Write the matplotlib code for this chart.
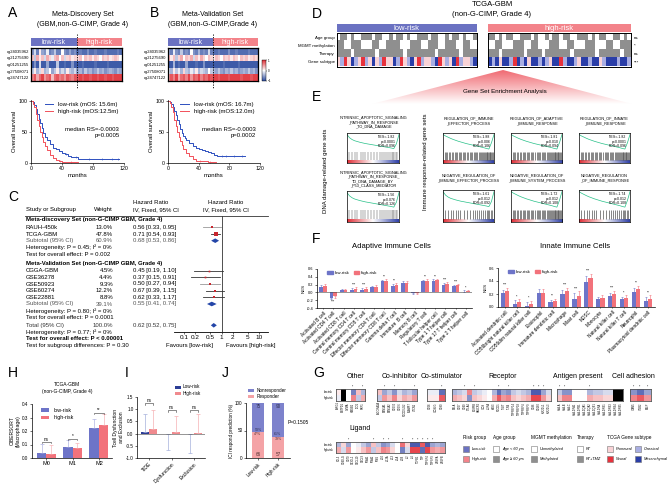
import numpy as np
import matplotlib
matplotlib.use('Agg')
import matplotlib.pyplot as plt
from matplotlib.colors import LinearSegmentedColormap, to_rgb
from matplotlib.patches import Rectangle, Polygon
from matplotlib.lines import Line2D

plt.rcParams['font.family'] = ['Liberation Sans', 'DejaVu Sans']
plt.rcParams['axes.linewidth'] = 0.5
plt.rcParams['xtick.major.width'] = 0.4
plt.rcParams['ytick.major.width'] = 0.4
plt.rcParams['xtick.major.size'] = 1.5
plt.rcParams['ytick.major.size'] = 1.5
plt.rcParams['xtick.major.pad'] = 1
plt.rcParams['ytick.major.pad'] = 1

# -------------------------------------
# Data
# -------------------------------------
probe_names = ["cg24035962", "cg21275690", "cg01251255", "cg27508071", "cg24747122"]

heat_a_low = [
    [-0.6, -0.2, -0.7, 0.1, -0.5, -0.6, -0.1, -0.7, -0.6, -0.3, -0.7, -0.7, 0.0, -0.6, -0.7, -0.5, -0.7, -0.6],
    [0.3, -0.3, 0.4, 0.1, 0.3, -0.2, 0.4, 0.2, -0.1, 0.3, 0.4, 0.0, 0.3, -0.2, 0.2, 0.3, 0.1, 0.2],
    [-0.9, -0.6, -0.9, -0.2, -0.9, -0.9, -0.5, -0.9, -0.9, -0.9, -0.3, -0.9, -0.9, -0.8, -0.9, -0.9, -0.6, -0.9],
    [-0.3, 0.1, -0.4, -0.2, 0.2, -0.4, -0.3, 0.0, -0.5, -0.3, 0.1, -0.4, -0.2, -0.4, 0.1, -0.3, -0.4, -0.2],
    [0.6, 0.8, 0.4, 0.7, 0.9, 0.5, 0.7, 0.8, 0.3, 0.7, 0.8, 0.6, 0.7, 0.5, 0.8, 0.7, 0.6, 0.8],
]
heat_a_high = [
    [-0.8, -0.7, -0.8, -0.8, -0.6, -0.8, -0.8, -0.7, -0.8, -0.8, -0.8, -0.7, -0.8, -0.8, -0.8, -0.8, -0.7, -0.8],
    [0.2, 0.3, 0.0, 0.3, 0.2, 0.3, 0.1, 0.3, 0.2, 0.0, 0.3, 0.2, 0.3, 0.1, 0.2, 0.3, 0.2, 0.0],
    [-0.9, -0.9, -0.8, -0.9, -0.9, -0.9, -0.9, -0.8, -0.9, -0.9, -0.9, -0.9, -0.8, -0.9, -0.9, -0.9, -0.9, -0.9],
    [-0.5, -0.4, -0.6, -0.3, -0.5, -0.4, -0.6, -0.5, -0.3, -0.5, -0.4, -0.6, -0.5, -0.4, -0.5, -0.6, -0.4, -0.5],
    [0.8, 0.9, 0.8, 0.9, 0.9, 0.8, 0.9, 0.9, 0.8, 0.9, 0.9, 0.8, 0.9, 0.9, 0.8, 0.9, 0.9, 0.9],
]
heat_b_low = [
    [-0.5, -0.7, -0.1, -0.6, -0.7, -0.3, -0.7, -0.6, -0.7, 0.0, -0.6, -0.7, -0.4, -0.7, -0.6, -0.7, -0.2, -0.7],
    [0.4, 0.1, 0.3, -0.3, 0.2, 0.4, 0.0, 0.3, 0.2, 0.4, -0.2, 0.3, 0.1, 0.4, 0.2, 0.0, 0.3, 0.2],
    [-0.9, -0.9, -0.4, -0.9, -0.8, -0.9, -0.9, -0.5, -0.9, -0.9, -0.9, -0.8, -0.9, -0.9, -0.6, -0.9, -0.9, -0.9],
    [-0.2, -0.4, 0.1, -0.3, -0.1, -0.4, 0.2, -0.3, -0.4, -0.1, -0.3, 0.1, -0.4, -0.2, -0.3, -0.4, 0.0, -0.3],
    [0.5, 0.8, 0.6, 0.9, 0.4, 0.7, 0.8, 0.6, 0.9, 0.5, 0.8, 0.7, 0.9, 0.6, 0.8, 0.7, 0.9, 0.8],
]
heat_b_high = [
    [-0.8, -0.8, -0.7, -0.8, -0.8, -0.8, -0.6, -0.8, -0.8, -0.7, -0.8, -0.8, -0.8, -0.8, -0.7, -0.8, -0.8, -0.8],
    [0.1, 0.3, 0.2, 0.0, 0.3, 0.2, 0.3, 0.1, 0.3, 0.2, 0.0, 0.3, 0.2, 0.3, 0.1, 0.2, 0.3, 0.2],
    [-0.9, -0.9, -0.9, -0.9, -0.8, -0.9, -0.9, -0.9, -0.9, -0.9, -0.8, -0.9, -0.9, -0.9, -0.9, -0.9, -0.9, -0.9],
    [-0.4, -0.5, -0.3, -0.5, -0.6, -0.4, -0.5, -0.3, -0.5, -0.4, -0.6, -0.5, -0.4, -0.5, -0.3, -0.5, -0.4, -0.6],
    [0.9, 0.9, 0.8, 0.9, 0.9, 0.9, 0.8, 0.9, 0.9, 0.9, 0.9, 0.8, 0.9, 0.9, 0.9, 0.8, 0.9, 0.9],
]

# Kaplan-Meier curves (months, % survival)
km_a_low_t = [0, 2, 4, 6, 8, 10, 12, 14, 16, 18, 20, 24, 28, 32, 36, 40, 44, 48, 52, 56, 60, 70, 113]
km_a_low_s = [100, 98, 94, 88, 80, 72, 64, 56, 48, 42, 37, 30, 25, 22, 19, 17, 14, 12, 10, 9, 7, 6, 6]
km_a_high_t = [0, 2, 4, 6, 8, 10, 12, 14, 16, 18, 20, 24, 28, 32, 36, 40, 48, 56, 60]
km_a_high_s = [100, 96, 90, 80, 70, 60, 51, 42, 34, 27, 21, 13, 8, 5, 3, 2, 2, 1, 0]
km_a_low_cens = [45, 58, 75, 92, 104, 112]
km_a_high_cens = [38, 52]
km_b_low_t = [0, 2, 4, 6, 8, 10, 12, 14, 16, 18, 20, 22, 24, 28, 32, 36, 40, 44, 48, 52, 56, 60, 64, 100]
km_b_low_s = [100, 99, 96, 90, 84, 77, 69, 63, 55, 48, 44, 40, 37, 32, 28, 25, 22, 21, 20, 18, 16, 13, 11, 11]
km_b_high_t = [0, 2, 4, 6, 8, 10, 12, 14, 16, 18, 20, 24, 28, 32, 36, 44, 52, 58, 62]
km_b_high_s = [100, 97, 91, 82, 70, 60, 50, 42, 35, 29, 23, 16, 11, 7, 4, 3, 2, 1, 0]
km_b_low_cens = [70, 76, 86, 96]
km_b_high_cens = [42, 55]

# Forest plot
study_names = ["RAUH-450k", "TCGA-GBM", "CGGA-GBM", "GSE36278", "GSE50923", "GSE60274", "GSE22881"]
study_weight = [13.0, 47.8, 4.5, 4.4, 9.3, 12.2, 8.8]
study_hr = [0.56, 0.71, 0.45, 0.37, 0.50, 0.67, 0.62]
study_lo = [0.33, 0.54, 0.19, 0.15, 0.27, 0.39, 0.33]
study_hi = [0.95, 0.93, 1.10, 0.91, 0.94, 1.15, 1.17]
sub_names = ["Subtotal (95% CI)", "Subtotal (95% CI)", "Total (95% CI)"]
sub_weight = [60.9, 39.1, 100.0]
sub_hr = [0.68, 0.55, 0.62]
sub_lo = [0.53, 0.41, 0.52]
sub_hi = [0.86, 0.74, 0.75]
set_names = ["Meta-discovery Set (non-G-CIMP GBM, Grade 4)", "Meta-Validation Set (non-G-CIMP GBM, Grade 4)"]
het_text = ["Heterogeneity: P = 0.45; I\u00b2 = 0%", "Heterogeneity: P = 0.80; I\u00b2 = 0%",
            "Heterogeneity: P = 0.77; I\u00b2 = 0%"]
effect_text = ["Test for overall effect: P = 0.002", "Test for overall effect: P = 0.0001",
               "Test for overall effect: P < 0.00001"]
subgroup_text = "Test for subgroup differences: P = 0.30"
hr_ticks = [0.1, 0.2, 0.5, 1, 2, 5, 10]

# TCGA clinical annotation (0 = white, 1 = grey; subtype P/C/N/M)
d_age_low = "0110100111011001011010011101100101101001"
d_age_high = "1101011001110100101101100111010110011010"
d_mgmt_low = "1100111000110011110001110011100111001100"
d_mgmt_high = "0011000111001100011100110001110001100111"
d_ther_low = "1111011111101111111011111111011111101111"
d_ther_high = "1110111111011110111111101111110111111011"
d_sub_low = "PCNPMCPNCPMPCNPPMCNPCMPNCPPCMNPCPMNCPPCM"
d_sub_high = "MCMPMMCNMCMPMMCMCPMMNCMMCPMMCMMPCMMMCMMC"
d_row_names = ["Age group", "MGMT methylation", "Therapy", "Gene subtype"]
d_sig = ["ns", "*", "ns", "***"]

# GSEA
gsea_titles = [
    "INTRINSIC_APOPTOTIC_SIGNALING\n_PATHWAY_IN_RESPONSE\n_TO_DNA_DAMAGE",
    "INTRINSIC_APOPTOTIC_SIGNALING\n_PATHWAY_IN_RESPONSE_\nTO_DNA_DAMAGE_BY\n_P53_CLASS_MEDIATOR",
    "REGULATION_OF_IMMUNE\n_EFFECTOR_PROCESS",
    "REGULATION_OF_ADAPTIVE\n_IMMUNE_RESPONSE",
    "REGULATION_OF_INNATE\n_IMMUNE_RESPONSE",
    "NEGATIVE_REGULATION_OF\n_IMMUNE_EFFECTOR_PROCESS",
    "NEGATIVE_REGULATION_OF\n_IMMUNE_SYSTEM_PROCESS",
    "NEGATIVE_REGULATION\n_OF_IMMUNE_RESPONSE",
]
gsea_nes = ["-1.82", "-1.56", "-1.88", "-1.81", "-1.82", "-1.61", "-1.72", "-1.74"]
gsea_p = ["<0.0001", "=0.076", "=0.006", "=0.010", "<0.0001", "=0.012", "=0.012", "=0.012"]
gsea_fdr = ["0.096", "0.126", "0.106", "0.094", "0.096", "0.092", "0.108", "0.108"]
es_steep = [0, -0.22, -0.34, -0.42, -0.47, -0.52, -0.56, -0.6, -0.63, -0.66, -0.69,
            -0.72, -0.75, -0.78, -0.81, -0.84, -0.87, -0.9, -0.94, -0.62, 0]
es_smooth = [0, -0.1, -0.18, -0.26, -0.33, -0.39, -0.45, -0.5, -0.55, -0.6, -0.64,
             -0.68, -0.72, -0.76, -0.8, -0.84, -0.88, -0.93, -0.97, -0.55, 0]
hits_sparse = [0.04, 0.1, 0.15, 0.19, 0.26, 0.3, 0.34, 0.41, 0.47, 0.52, 0.58, 0.63, 0.67,
               0.71, 0.75, 0.79, 0.83, 0.86, 0.89, 0.91, 0.94, 0.96]
hits_dense = [0.03, 0.06, 0.08, 0.11, 0.14, 0.17, 0.2, 0.23, 0.25, 0.28, 0.31, 0.33, 0.36,
              0.39, 0.42, 0.44, 0.47, 0.5, 0.52, 0.55, 0.57, 0.6, 0.62, 0.65, 0.67, 0.7,
              0.72, 0.74, 0.76, 0.78, 0.8, 0.82, 0.84, 0.86, 0.87, 0.89, 0.9, 0.92, 0.93,
              0.95, 0.96, 0.98]

# Immune cells (NES)
adaptive_cells = ["Activated B cell", "Activated CD4 T cell", "Activated CD8 T cell",
                  "Central memory CD4 T cell", "Central memory CD8 T cell",
                  "Effector memeory CD4 T cell", "Effector memeory CD8 T cell",
                  "Gamma delta T cell", "Immature  B cell", "Memory B cell",
                  "Regulatory T cell", "T follicular helper cell", "Type 1 T helper cell",
                  "Type 17 T helper cell", "Type 2 T helper cell"]
adaptive_low = [0.14, -0.14, 0.05, 0.07, 0.06, 0.13, 0.28, 0.16, 0.24, -0.01, 0.28, 0.30, 0.20, 0.16, 0.02]
adaptive_high = [0.16, -0.10, 0.05, 0.08, 0.08, 0.14, 0.30, 0.18, 0.25, -0.005, 0.30, 0.31, 0.22, 0.18, 0.03]
adaptive_low_err = [0.05, 0.04, 0.04, 0.04, 0.05, 0.04, 0.05, 0.05, 0.05, 0.03, 0.05, 0.04, 0.05, 0.04, 0.03]
adaptive_high_err = [0.05, 0.04, 0.04, 0.05, 0.06, 0.04, 0.05, 0.05, 0.05, 0.03, 0.05, 0.04, 0.05, 0.04, 0.04]
adaptive_sig = ["", "***", "", "***", "***", "", "**", "**", "", "", "**", "**", "***", "***", "*"]

innate_cells = ["Activated dendritic cell", "CD56bright natural killer cell",
                "CD56dim natural killer cell", "Eosinophil", "Immature dendritic cell",
                "Macrophage", "Mast cell", "MDSC", "Monocyte", "Natural killer cell",
                "Natural killer T cell", "Neutrophil", "Plasmacytoid dendritic cell"]
innate_low = [0.21, 0.05, 0.02, 0.21, 0.07, 0.20, 0.13, 0.39, 0.12, 0.17, 0.12, 0.23, 0.10]
innate_high = [0.25, 0.07, 0.04, 0.21, 0.09, 0.25, 0.17, 0.44, 0.14, 0.20, 0.14, 0.27, 0.13]
innate_low_err = [0.05, 0.06, 0.05, 0.06, 0.04, 0.06, 0.09, 0.08, 0.04, 0.04, 0.04, 0.07, 0.05]
innate_high_err = [0.05, 0.05, 0.06, 0.06, 0.04, 0.05, 0.07, 0.07, 0.05, 0.05, 0.04, 0.06, 0.05]
innate_sig = ["***", "*", "*", "", "**", "***", "***", "***", "", "***", "*", "**", "**"]

# Immunomodulators (z-score, NaN = not available)
nan = np.nan
g_other_genes = ["ARG1", "ENTPD1", "GZMA", "HMGB1", "IDO1", "PRF1"]
g_other_low = [0.1, nan, 0.0, -0.7, 0.3, -0.4]
g_other_high = [-0.1, nan, 0.0, 0.6, -0.3, 0.4]
g_other_sig = ["", "", "", "*", "", "*"]
g_coinh_genes = ["ADORA2A", "BTN3A1", "BTN3A2", "CD274", "CD276", "PDCD1LG2", "SLAMF7", "VTCN1"]
g_coinh_low = [0.3, -0.5, -0.3, -0.6, -0.2, -0.4, -0.3, -0.5]
g_coinh_high = [-0.3, 0.5, 0.3, 0.6, 0.2, 0.4, 0.3, 0.5]
g_coinh_sig = ["", "*", "", "*", "", "", "", "*"]
g_costim_genes = ["CD28", "ICOSLG", "CD80"]
g_costim_low = [-0.1, -0.1, -0.8]
g_costim_high = [0.1, 0.1, 0.8]
g_costim_sig = ["", "", "**"]
g_rec_genes = ["BTLA", "CD27", "CD40", "CTLA4", "EDNRB", "HAVCR2", "ICOS", "IL2RA", "LAG3", "PDCD1",
               "TIGIT", "TLR4", "TNFRSF14", "TNFRSF18", "TNFRSF4", "TNFRSF9", "CD96", "CD160",
               "KIR2DL1", "KIR2DL3"]
g_rec_low = [-0.4, -0.3, -0.2, 0.6, -0.3, -0.2, -0.1, 0.0, -0.4, -0.8, -0.5, -0.6,
             -0.3, -0.2, -0.3, -0.4, -0.9, -0.9, -0.5, -0.2]
g_rec_high = [0.4, 0.3, 0.2, -0.6, 0.3, 0.2, 0.1, 0.0, 0.4, 0.8, 0.5, 0.6,
              0.3, 0.2, 0.3, 0.4, 0.9, 0.9, 0.5, 0.2]
g_rec_sig = ["", "", "*", "", "*", "", "", "", "", "**", "", "*", "", "", "", "", "**", "**", "*", ""]
g_ag_genes = ["HLA-A", "HLA-B", "HLA-C", "HLA-DPA1", "HLA-DPB1", "HLA-DQA1", "HLA-DQA2",
              "HLA-DQB1", "HLA-DRA", "HLA-DRB1", "HLA-DRB3", "HLA-DRB4", "HLA-DRB5"]
g_ag_low = [-0.3, -0.6, -0.6, 0.0, 0.0, 0.0, -0.4, -0.3, -0.3, -0.2, -0.2, nan, nan]
g_ag_high = [0.3, 0.6, 0.6, 0.0, 0.0, 0.0, 0.4, 0.3, 0.3, 0.2, 0.2, nan, nan]
g_ag_sig = ["*", "*", "", "", "", "", "*", "", "", "", "", "", ""]
g_adh_genes = ["ICAM1", "ITGB2", "SELP"]
g_adh_low = [-0.6, -0.8, -0.5]
g_adh_high = [0.6, 0.8, 0.5]
g_adh_sig = ["*", "**", "*"]
g_lig_genes = ["CCL5", "CD40LG", "CD70", "CX3CL1", "CXCL10", "CXCL9", "IFNA1", "IFNA2", "IFNG",
               "IL10", "IL12A", "IL13", "IL1A", "IL1B", "IL2", "IL4", "TGFB1", "TNF", "TNFSF4",
               "TNFSF9", "VEGFA", "VEGFB"]
g_lig_low = [-0.4, 0.2, -0.5, 0.0, -0.1, -0.3, -0.5, 0.3, -0.3, -0.6, -0.5, -0.2, 0.0,
             0.7, 0.2, -0.9, -0.9, 0.8, -0.9, -0.5, -0.4, -0.5]
g_lig_high = [0.4, -0.2, 0.5, 0.0, 0.1, 0.3, 0.5, -0.3, 0.3, 0.6, 0.5, 0.2, 0.0,
              -0.7, -0.2, 0.9, 0.9, -0.8, 0.9, 0.5, 0.4, 0.5]
g_lig_sig = ["", "", "*", "", "", "", "", "*", "", "*", "*", "", "", "*", "", "**", "**", "**", "**", "*", "", ""]

# Macrophage CIBERSORT
macro_types = ["M0", "M1", "M2"]
macro_low = [0.035, 0.082, 0.22]
macro_high = [0.030, 0.072, 0.243]
macro_low_err = [0.072, 0.048, 0.068]
macro_high_err = [0.070, 0.036, 0.082]
macro_sig = ["ns", "*", "**"]

# TIDE
tide_terms = ["TIDE", "Dysfunction", "Exclusion"]
tide_low = [0.05, -0.02, -0.01]
tide_high = [0.18, 0.08, 0.005]
tide_low_err = [0.77, 0.66, 0.79]
tide_high_err = [0.77, 0.64, 0.80]

# ICI response
ici_groups = ["Low-risk", "High-risk"]
ici_resp_n = [66, 57]
ici_nonresp_n = [75, 90]
ici_p = "P=0.1505"

# -------------------------------------
# Colours
# -------------------------------------
low_col = '#6b72c2'
high_col = '#f3838a'
km_blue = '#2d4fbf'
km_red = '#f2505a'
bar_blue = '#6d74c8'
bar_red = '#f2727b'
grey_cell = '#8f8f8f'
sub_cols = {'P': '#f9d3d6', 'C': '#a9aee2', 'N': '#e8323c', 'M': '#2a3ea8'}
meth_cmap = LinearSegmentedColormap.from_list('meth', ['#2a4a9f', '#ffffff', '#e12e36'])
g_cmap = LinearSegmentedColormap.from_list('g', ['#3a4ba6', '#ffffff', '#e5323b'])
g_cmap.set_bad('black')

# -------------------------------------
# Figure helpers (pixel coordinates, y from top)
# -------------------------------------
W, H = 669, 484
fig = plt.figure(figsize=(W / 100, H / 100), dpi=100)


def px_ax(x, y, w, h):
    return fig.add_axes([x / W, 1 - (y + h) / H, w / W, h / H])


def px_text(x, y, s, size=4.0, **kw):
    kw.setdefault('va', 'center')
    return fig.text(x / W, 1 - y / H, s, fontsize=size, **kw)


def px_rect(x, y, w, h, **kw):
    fig.patches.append(Rectangle((x / W, 1 - (y + h) / H), w / W, h / H,
                                 transform=fig.transFigure, **kw))


def px_line(xs, ys, **kw):
    fig.add_artist(Line2D([v / W for v in xs], [1 - v / H for v in ys],
                          transform=fig.transFigure, **kw))


def clean(ax):
    ax.spines['top'].set_visible(False)
    ax.spines['right'].set_visible(False)


# panel letters
for letter, lx, ly in [('A', 8, 13), ('B', 150, 13), ('C', 8, 197), ('D', 312, 14),
                       ('E', 312, 97), ('F', 312, 239), ('G', 313, 373), ('H', 8, 373),
                       ('I', 125, 373), ('J', 222, 373)]:
    px_text(lx, ly, letter, size=10)


# -------------------------------------
# A / B : heatmap + KM
# -------------------------------------
def methyl_panel(x0, width, cx, title, sub, low, high, km, stats, legend_labels):
    px_text(cx, 14, title, size=5, ha='center')
    px_text(cx, 24, sub, size=5, ha='center')
    nl = len(low[0])
    nh = len(high[0])
    split = x0 + width * nl / (nl + nh)
    px_rect(x0, 38, split - x0, 8, color=low_col, lw=0)
    px_rect(split, 38, x0 + width - split, 8, color=high_col, lw=0)
    px_text((x0 + split) / 2, 42, "low-risk", size=5, ha='center', color='white')
    px_text((split + x0 + width) / 2, 42, "high-risk", size=5, ha='center', color='white')
    ax = px_ax(x0, 48, width, 33)
    mat = np.hstack([np.array(low), np.array(high)])
    ax.imshow(mat, aspect='auto', cmap=meth_cmap, vmin=-1, vmax=1, interpolation='nearest')
    ax.set_xticks([])
    ax.set_yticks(range(len(probe_names)))
    ax.set_yticklabels(probe_names, fontsize=3)
    ax.tick_params(axis='y', length=0, pad=1)
    for s in ax.spines.values():
        s.set_linewidth(0.9)
    px_line([split, split], [34, 88], color='black', lw=0.6, ls=(0, (1.5, 1.5)))

    kax = px_ax(x0, 100, width + 2, 63)
    (tl, sl, th, sh, cl, ch) = km
    kax.step(tl, sl, where='post', color=km_blue, lw=0.7, label=legend_labels[0])
    kax.step(th, sh, where='post', color=km_red, lw=0.7, label=legend_labels[1])
    for cens, tt, ss, col in [(cl, tl, sl, km_blue), (ch, th, sh, km_red)]:
        idx = np.searchsorted(tt, cens, side='right') - 1
        kax.plot(cens, np.array(ss)[idx], '|', color=col, ms=2, mew=0.4)
    kax.set_xlim(0, 120)
    kax.set_ylim(0, 102)
    kax.set_xticks([0, 40, 80, 120])
    kax.set_yticks([0, 50, 100])
    kax.tick_params(labelsize=3.8)
    kax.set_xlabel("months", fontsize=4.3, labelpad=1)
    kax.set_ylabel("Overall survival", fontsize=4.3, labelpad=1)
    clean(kax)
    kax.legend(fontsize=4.3, frameon=False, loc='upper right', handlelength=1.5,
               bbox_to_anchor=(1.0, 1.05), labelspacing=0.3)
    kax.text(0.95, 0.48, stats, transform=kax.transAxes, ha='right', va='center',
             fontsize=4.3, linespacing=1.3)
    return ax


methyl_panel(31, 91, 83, "Meta-Discovery Set", "(GBM,non-G-CIMP, Grade 4)",
             heat_a_low, heat_a_high,
             (km_a_low_t, km_a_low_s, km_a_high_t, km_a_high_s, km_a_low_cens, km_a_high_cens),
             "median RS=-0.0003\np=0.0005",
             ["low-risk (mOS: 15.6m)", "high-risk (mOS:12.5m)"])
hb = methyl_panel(168, 90, 213, "Meta-Validation Set", "(GBM,non-G-CIMP,Grade 4)",
                  heat_b_low, heat_b_high,
                  (km_b_low_t, km_b_low_s, km_b_high_t, km_b_high_s, km_b_low_cens, km_b_high_cens),
                  "median RS=-0.0003\np=0.0002",
                  ["low-risk (mOS: 16.7m)", "high-risk (mOS:12.0m)"])

# colour bar
cax = px_ax(262, 60, 4, 21)
cb = fig.colorbar(plt.cm.ScalarMappable(cmap=meth_cmap, norm=plt.Normalize(-1, 1)), cax=cax)
cb.set_ticks([-1, 0, 1])
cb.ax.tick_params(labelsize=2.2, length=1, width=0.3, pad=0.5)
cb.outline.set_linewidth(0.3)

# -------------------------------------
# C : forest plot
# -------------------------------------
fs = 4.3
px_text(26, 210, "Study or Subgroup", size=fs)
px_text(113, 210, "Weight", size=fs, ha='right')
px_text(133, 203, "Hazard Ratio", size=fs)
px_text(133, 210, "IV, Fixed, 95% CI", size=fs)
px_text(226, 203, "Hazard Ratio", size=fs, ha='center')
px_text(226, 210, "IV, Fixed, 95% CI", size=fs, ha='center')
px_line([25, 268], [215.5, 215.5], color='#333333', lw=0.6)

study_y = [227.3, 234.0, 270.7, 277.3, 284.0, 290.7, 297.3]
sub_y = [240.7, 304.0, 325.3]
set_y = [220.0, 263.3]
het_y = [247.3, 310.7, 332.0]
eff_y = [254.0, 317.3, 338.7]
ci_cols = ['#999999', '#333333', '#333333', '#333333', '#999999', '#333333', '#333333']

for name, yy in zip(set_names, set_y):
    px_text(26, yy, name, size=fs, fontweight='bold')
for i, name in enumerate(study_names):
    yy = study_y[i]
    px_text(26, yy, name, size=fs)
    px_text(113, yy, "%.1f%%" % study_weight[i], size=fs, ha='right')
    px_text(133, yy, "%.2f [%.2f, %.2f]" % (study_hr[i], study_lo[i], study_hi[i]), size=fs)
for i, name in enumerate(sub_names):
    yy = sub_y[i]
    col = '#333333' if i == 2 else '#555555'
    px_text(26, yy, name, size=fs, color=col)
    px_text(113, yy, "%.1f%%" % sub_weight[i], size=fs, ha='right', color=col)
    px_text(133, yy, "%.2f [%.2f, %.2f]" % (sub_hr[i], sub_lo[i], sub_hi[i]), size=fs, color=col)
for i in range(3):
    px_text(26, het_y[i], het_text[i], size=fs)
    px_text(26, eff_y[i], effect_text[i], size=fs, fontweight='bold' if i == 2 else 'normal')
px_text(26, 345.3, subgroup_text, size=fs)

fax = px_ax(174, 216, 94, 116)
fax.set_xscale('log')
fax.set_xlim(0.054, 17.4)
fax.set_ylim(332, 216)
for i in range(len(study_names)):
    fax.plot([study_lo[i], study_hi[i]], [study_y[i], study_y[i]], color=ci_cols[i], lw=0.6)
    fax.plot(study_hr[i], study_y[i], 's', color='#c8262e', ms=1.0 + study_weight[i] * 0.05, mew=0)
for i in range(3):
    yy = sub_y[i]
    fax.add_patch(Polygon([(sub_lo[i], yy), (sub_hr[i], yy - 2.3), (sub_hi[i], yy),
                           (sub_hr[i], yy + 2.3)], closed=True, color='#2446a8', lw=0))
fax.axvline(1, color='#333333', lw=0.6)
fax.set_yticks([])
fax.set_xticks(hr_ticks)
fax.set_xticklabels([('%g' % v) for v in hr_ticks], fontsize=4.6)
fax.minorticks_off()
fax.tick_params(axis='x', length=1.5, pad=1)
for s in ['top', 'right', 'left']:
    fax.spines[s].set_visible(False)
fax.spines['bottom'].set_linewidth(0.6)
fax.patch.set_alpha(0)
px_text(190, 345, "Favours [low-risk]", size=fs, ha='center')
px_text(251, 345, "Favours [high-risk]", size=fs, ha='center')

# -------------------------------------
# D : TCGA annotation
# -------------------------------------
px_text(492, 5, "TCGA-GBM", size=5.5, ha='center')
px_text(492, 14, "(non-G-CIMP, Grade 4)", size=5.5, ha='center')


def annot_rgb(age, mgmt, ther, sub):
    rows = []
    for codes in (age, mgmt, ther):
        rows.append([to_rgb(grey_cell) if c == '1' else (1, 1, 1) for c in codes])
    rows.append([to_rgb(sub_cols[c]) for c in sub])
    return np.array(rows)


for (bx, bw, lab, col, data) in [
        (337, 140, "low-risk", low_col, (d_age_low, d_mgmt_low, d_ther_low, d_sub_low)),
        (488, 143, "high-risk", high_col, (d_age_high, d_mgmt_high, d_ther_high, d_sub_high))]:
    px_rect(bx, 24, bw, 8, color=col, lw=0)
    px_text(bx + bw / 2, 28, lab, size=5.5, ha='center', color='white')
    ax = px_ax(bx, 33.5, bw, 33)
    ax.imshow(annot_rgb(*data), aspect='auto', interpolation='nearest')
    ax.set_xticks([])
    ax.set_yticks([])
    for s in ax.spines.values():
        s.set_linewidth(0.7)
for i, (nm, sg) in enumerate(zip(d_row_names, d_sig)):
    px_text(335, 37.6 + i * 8.25, nm, size=3.2, ha='right')
    px_text(634, 37.6 + i * 8.25, sg, size=3.2)

# GSEA triangle
tax = px_ax(372, 70, 260, 34)
tax.set_xlim(0, 1)
tax.set_ylim(0, 1)
tax.axis('off')
grad = np.linspace(0, 1, 64).reshape(-1, 1)
tri_cmap = LinearSegmentedColormap.from_list('tri', ['#ffffff', '#f06a72'])
im = tax.imshow(grad, extent=(0, 1, 0, 1), origin='lower', aspect='auto', cmap=tri_cmap)
tri = Polygon([(0, 0), (1, 0), (0.504, 1)], closed=True, transform=tax.transData, fc='none', ec='none')
tax.add_patch(tri)
im.set_clip_path(tri)
px_text(505, 91, "Gene Set Enrichment Analysis", size=4.5, ha='center')

# -------------------------------------
# E : GSEA plots
# -------------------------------------
px_text(326, 171, "DNA damage-related gene sets", size=4.3, rotation=90, ha='center')
px_text(426, 162, "Immune response-related gene sets", size=4.3, rotation=90, ha='center')

gsea_boxes = [(347, 133, 52, 30), (347, 191, 52, 31),
              (443, 133, 51, 30), (511, 133, 51, 30), (579, 133, 51, 30),
              (443, 190, 51, 32), (511, 190, 51, 32), (579, 190, 51, 32)]
gsea_title_y = [122, 179, 121, 121, 121, 178, 178, 178]
gsea_curves = [es_steep, es_steep, es_smooth, es_smooth, es_smooth, es_steep, es_smooth, es_smooth]
gsea_hits = [hits_sparse, hits_sparse, hits_dense, hits_dense, hits_dense,
             hits_sparse, hits_dense, hits_sparse]
strip_cmap = LinearSegmentedColormap.from_list('strip', ['#e03038', '#ffffff', '#3040a8'])
xs_es = np.linspace(0, 1, len(es_steep))

for i, (bx, by, bw, bh) in enumerate(gsea_boxes):
    px_text(bx + bw / 2, gsea_title_y[i], gsea_titles[i], size=2.8, ha='center', linespacing=1.15)
    ax = px_ax(bx, by, bw, bh)
    ax.set_xlim(0, 1)
    ax.set_ylim(0, 1)
    ax.set_xticks([])
    ax.set_yticks([])
    for s in ax.spines.values():
        s.set_linewidth(0.5)
    es = np.array(gsea_curves[i])
    ax.plot(xs_es, 0.95 + es * 0.5, color='#27c088', lw=0.5)
    ax.vlines(gsea_hits[i], 0.1, 0.38, color='#555555', lw=0.5 if i > 1 else 0.35)
    ax.imshow(np.linspace(0, 1, 64).reshape(1, -1), extent=(0, 1, 0, 0.07),
              aspect='auto', cmap=strip_cmap)
    ax.text(0.93, 0.93, "NES=%s\np%s\nFDR=%s" % (gsea_nes[i], gsea_p[i], gsea_fdr[i]),
            transform=ax.transAxes, ha='right', va='top', fontsize=2.5, linespacing=1.15)


# -------------------------------------
# F : immune cell NES
# -------------------------------------
def nes_bars(ax, names, low, high, lerr, herr, sig, ylim, yticks, ylab):
    xs = np.arange(len(names))
    w = 0.36
    ax.bar(xs - w / 2, low, w, color=bar_blue, lw=0)
    ax.bar(xs + w / 2, high, w, color=bar_red, lw=0)
    for j in range(len(names)):
        for (v, e, dx, c) in [(low[j], lerr[j], -w / 2, bar_blue), (high[j], herr[j], w / 2, bar_red)]:
            sgn = 1 if v >= 0 else -1
            ax.errorbar(xs[j] + dx, v, yerr=[[e if sgn < 0 else 0], [e if sgn > 0 else 0]],
                        fmt='none', ecolor=c, elinewidth=0.4, capsize=0.8, capthick=0.4)
        if sig[j]:
            if low[j] >= 0:
                top = max(low[j] + lerr[j], high[j] + herr[j]) + 0.01
                ax.text(xs[j], top, sig[j], ha='center', va='bottom', fontsize=2.6)
            else:
                bot = min(low[j] - lerr[j], high[j] - herr[j]) - 0.01
                ax.text(xs[j], bot, sig[j], ha='center', va='top', fontsize=2.6)
    ax.axhline(0, color='#444444', lw=0.4)
    ax.set_xlim(-0.6, len(names) - 0.4)
    ax.set_ylim(*ylim)
    ax.set_yticks(yticks)
    ax.set_yticklabels(['%.1f' % v for v in yticks], fontsize=2.8)
    ax.set_xticks(xs)
    ax.set_xticklabels(names, rotation=45, ha='right', rotation_mode='anchor', fontsize=3.4)
    ax.tick_params(axis='x', length=1, pad=1)
    ax.set_ylabel(ylab, fontsize=3.2, labelpad=1)
    clean(ax)
    ax.legend(handles=[Rectangle((0, 0), 1, 1, color=bar_blue), Rectangle((0, 0), 1, 1, color=bar_red)],
              labels=["low-risk", "high-risk"], fontsize=3.2, frameon=False, ncol=2,
              loc='upper left', bbox_to_anchor=(0.04, 1.06), handlelength=1.2, handleheight=0.6,
              columnspacing=1.0, handletextpad=0.4)


px_text(391, 247, "Adaptive Immune Cells", size=5.5, ha='center')
px_text(575, 247, "Innate Immune Cells", size=5.5, ha='center')
fl = px_ax(317, 269, 155, 39)
nes_bars(fl, adaptive_cells, adaptive_low, adaptive_high, adaptive_low_err, adaptive_high_err,
         adaptive_sig, (-0.4, 0.6), [-0.4, -0.2, 0.0, 0.2, 0.4, 0.6], "NES")
fr = px_ax(498, 268, 157, 39)
nes_bars(fr, innate_cells, innate_low, innate_high, innate_low_err, innate_high_err,
         innate_sig, (0, 0.6), [0.0, 0.2, 0.4, 0.6], "NES")

# -------------------------------------
# G : immunomodulator heatmaps
# -------------------------------------
g_table = [
    ("Other", g_other_genes, g_other_low, g_other_high, g_other_sig, 336, 389, 29, 12, 355, 377),
    ("Co-inhibitor", g_coinh_genes, g_coinh_low, g_coinh_high, g_coinh_sig, 377, 389, 40, 12, 400, 377),
    ("Co-stimulator", g_costim_genes, g_costim_low, g_costim_high, g_costim_sig, 427, 389, 18, 12, 442, 377),
    ("Receptor", g_rec_genes, g_rec_low, g_rec_high, g_rec_sig, 452, 389, 99, 12, 503, 377),
    ("Antigen present", g_ag_genes, g_ag_low, g_ag_high, g_ag_sig, 557, 389, 66, 12, 578, 377),
    ("Cell adhesion", g_adh_genes, g_adh_low, g_adh_high, g_adh_sig, 630, 389, 21, 12, 633, 377),
    ("Ligand", g_lig_genes, g_lig_low, g_lig_high, g_lig_sig, 336, 442, 109, 11, 360, 428),
]
for (gname, genes, lo, hi, sig, gx, gy, gw, gh, tx, ty) in g_table:
    px_text(tx, ty, gname, size=5, ha='center')
    ax = px_ax(gx, gy, gw, gh)
    ax.imshow(np.ma.masked_invalid(np.array([lo, hi])), aspect='auto', cmap=g_cmap,
              vmin=-1, vmax=1, interpolation='nearest')
    ax.set_yticks([])
    ax.set_xticks(range(len(genes)))
    ax.set_xticklabels(genes, rotation=90, fontsize=1.8)
    ax.tick_params(axis='x', length=0, pad=1)
    for s in ax.spines.values():
        s.set_linewidth(0.6)
        s.set_color('#555555')
    for j, sg in enumerate(sig):
        if sg:
            ax.text(j, -0.55, sg, ha='center', va='bottom', fontsize=2.2)
for ry in (389, 442):
    px_text(333, ry + 3, "low-risk", size=1.9, ha='right')
    px_text(333, ry + 8.5, "high-risk", size=1.9, ha='right')

# legend for G / D
leg_titles = ["Risk group", "Age group", "MGMT methylation", "Therapy", "TCGA Gene subtype"]
leg_title_x = [463, 493, 531, 577, 607]
for t, x in zip(leg_titles, leg_title_x):
    px_text(x, 438, t, size=3.4)
leg_items = [(463, 449, low_col, "Low-risk"), (463, 459, high_col, "High-risk"),
             (493, 449, 'white', "Age < 60 yrs"), (493, 459, grey_cell, "Age \u2265 60 yrs"),
             (531, 449, 'white', "Unmethylated"), (531, 459, grey_cell, "Methylated"),
             (577, 449, 'white', "RT"), (577, 459, grey_cell, "RT+TMZ"),
             (607, 449, sub_cols['P'], "Proneural"), (635, 449, sub_cols['C'], "Classical"),
             (607, 459, sub_cols['N'], "Neural"), (635, 459, sub_cols['M'], "Mesenchymal")]
for (x, y, c, lab) in leg_items:
    px_rect(x, y - 3, 6, 6, fc=c, ec='#777777', lw=0.4)
    px_text(x + 9, y, lab, size=2.8, style='italic')

# -------------------------------------
# H : CIBERSORT macrophages
# -------------------------------------
px_text(67, 384, "TCGA-GBM", size=3.5, ha='center')
px_text(67, 391, "(non-G-CIMP, Grade 4)", size=3.5, ha='center')
hax = px_ax(32, 404, 80, 54)
xs = np.arange(len(macro_types))
w = 0.36
hax.bar(xs - w / 2, macro_low, w, color=bar_blue, lw=0, label="low-risk")
hax.bar(xs + w / 2, macro_high, w, color=bar_red, lw=0, label="high-risk")
hax.errorbar(xs - w / 2, macro_low, yerr=[np.zeros(3), macro_low_err], fmt='none',
             ecolor='#9ea3dc', elinewidth=0.4, capsize=1.2, capthick=0.4)
hax.errorbar(xs + w / 2, macro_high, yerr=[np.zeros(3), macro_high_err], fmt='none',
             ecolor='#f6a4a9', elinewidth=0.4, capsize=1.2, capthick=0.4)
for j in range(3):
    top = max(macro_low[j] + macro_low_err[j], macro_high[j] + macro_high_err[j]) + 0.012
    hax.plot([j - w / 2, j - w / 2, j + w / 2, j + w / 2], [top - 0.01, top, top, top - 0.01],
             color='#333333', lw=0.4)
    hax.text(j, top + 0.003, macro_sig[j], ha='center', va='bottom', fontsize=3.3)
hax.set_xlim(-0.55, 2.5)
hax.set_ylim(0, 0.4)
hax.set_yticks([0.0, 0.1, 0.2, 0.3, 0.4])
hax.set_yticklabels(['0.0', '0.1', '0.2', '0.3', '0.4'], fontsize=3.3)
hax.set_xticks(xs)
hax.set_xticklabels(macro_types, fontsize=4)
hax.set_ylabel("CIBERSORT\n(Macrophage)", fontsize=3.6, labelpad=1)
clean(hax)
hax.legend(fontsize=3.8, frameon=False, loc='upper left', bbox_to_anchor=(0.05, 1.02),
           handlelength=1.6, handleheight=0.7)

# -------------------------------------
# I : TIDE
# -------------------------------------
iax = px_ax(137, 397, 68, 61)
xs = np.arange(len(tide_terms))
w = 0.36
tide_blue = '#2c3d95'
tide_red = '#f08a8e'
iax.bar(xs - w / 2, tide_low, w, color=tide_blue, lw=0)
iax.bar(xs + w / 2, tide_high, w, color=tide_red, lw=0)
for j in range(3):
    for (v, e, dx, c) in [(tide_low[j], tide_low_err[j], -w / 2, '#a5b0dc'),
                          (tide_high[j], tide_high_err[j], w / 2, '#f6b0b3')]:
        up = e if v >= 0 else 0
        dn = e if v < 0 else 0
        iax.errorbar(j + dx, v, yerr=[[dn], [up]], fmt='none', ecolor=c,
                     elinewidth=0.5, capsize=1.2, capthick=0.5)
for j, top in enumerate([1.25, 0.95, 0.95]):
    iax.plot([j - w / 2, j - w / 2, j + w / 2, j + w / 2], [top - 0.07, top, top, top - 0.07],
             color='#333333', lw=0.4)
    iax.text(j, top + 0.02, "ns", ha='center', va='bottom', fontsize=3.3)
iax.axhline(0, color='#444444', lw=0.4)
iax.set_xlim(-0.55, 2.5)
iax.set_ylim(-1.0, 1.5)
iax.set_yticks([-1.0, -0.5, 0.0, 0.5, 1.0, 1.5])
iax.set_yticklabels(['-1.0', '-0.5', '0.0', '0.5', '1.0', '1.5'], fontsize=3.3)
iax.set_xticks(xs)
iax.set_xticklabels(tide_terms, rotation=45, ha='right', rotation_mode='anchor', fontsize=3.6)
iax.set_ylabel("Tcell Dysfunction\nand Exclusion", fontsize=3.6, labelpad=1)
clean(iax)
px_rect(175, 385.5, 6, 3, color=tide_blue, lw=0)
px_text(183, 387, "Low-risk", size=3.3)
px_rect(175, 391.5, 6, 3, color=tide_red, lw=0)
px_text(183, 393, "High-risk", size=3.3)

# -------------------------------------
# J : ICI response
# -------------------------------------
jax = px_ax(246, 403, 44, 55)
tot = np.array(ici_resp_n) + np.array(ici_nonresp_n)
resp_pct = 100.0 * np.array(ici_resp_n) / tot
non_pct = 100.0 - resp_pct
xs = np.arange(2)
jax.bar(xs, resp_pct, 0.62, color='#f4a3a6', lw=0)
jax.bar(xs, non_pct, 0.62, bottom=resp_pct, color='#7d82cc', lw=0)
for j in range(2):
    jax.text(j, 93, "%d" % ici_nonresp_n[j], ha='center', va='center', fontsize=3.3, color='#333355')
    jax.text(j, resp_pct[j] + 4, "%d%%" % round(non_pct[j]), ha='center', va='center',
             fontsize=2.6, color='#333355')
    jax.text(j, resp_pct[j] - 3.5, "%d%%" % round(resp_pct[j]), ha='center', va='center',
             fontsize=2.6, color='#553333')
    jax.text(j, 7, "%d" % ici_resp_n[j], ha='center', va='center', fontsize=3.3, color='#553333')
jax.set_xlim(-0.6, 1.6)
jax.set_ylim(0, 100)
jax.set_yticks([0, 50, 100])
jax.set_yticklabels(['0', '50', '100'], fontsize=3.3)
jax.set_xticks(xs)
jax.set_xticklabels(ici_groups, rotation=45, ha='right', rotation_mode='anchor', fontsize=3.3)
jax.set_ylabel("ICI respond prediction (%)", fontsize=3.3, labelpad=1)
clean(jax)
px_text(288, 423, ici_p, size=3.5)
px_rect(248, 389, 6, 3, color='#7d82cc', lw=0)
px_text(257, 390.5, "Nonresponder", size=3.3)
px_rect(248, 395, 6, 3, color='#f4a3a6', lw=0)
px_text(257, 396.5, "Responder", size=3.3)

fig.savefig('out.png', dpi=100)
